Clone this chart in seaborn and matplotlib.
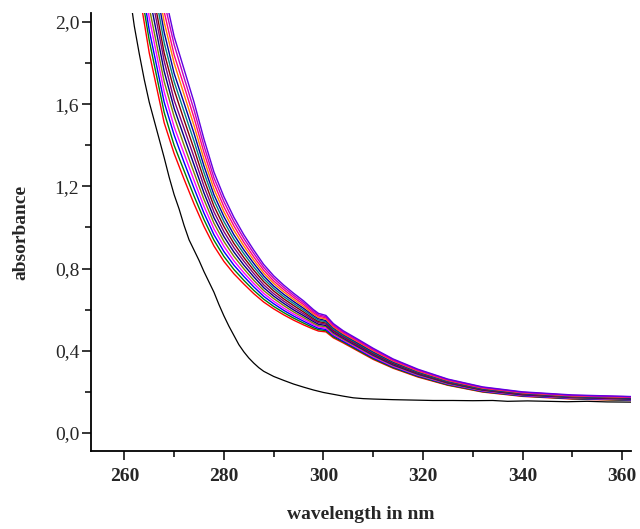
import matplotlib
matplotlib.use("Agg")
import matplotlib.pyplot as plt
import matplotlib.ticker as mticker
import seaborn as sns
import pandas as pd

# Reference (blank) spectrum
ref_nm = [261.0, 262, 263, 264, 265, 266, 267, 268, 269, 270, 271, 272, 273, 274,
          275, 276, 277, 278, 279, 280, 281, 282, 283, 284, 285, 286, 287, 288,
          290, 292, 294, 296, 298, 300, 302, 304, 306, 308, 310, 314, 318, 322,
          326, 330, 334, 337, 341, 345, 349, 353, 357, 362]
ref_abs = [2.15, 1.98, 1.845, 1.72, 1.61, 1.52, 1.43, 1.34, 1.245, 1.16, 1.09, 1.01,
           0.94, 0.89, 0.84, 0.785, 0.735, 0.685, 0.625, 0.57, 0.52, 0.475, 0.43, 0.395,
           0.365, 0.34, 0.318, 0.30, 0.275, 0.256, 0.238, 0.223, 0.209, 0.197, 0.188,
           0.179, 0.171, 0.167, 0.165, 0.162, 0.160, 0.158, 0.158, 0.157, 0.158, 0.154,
           0.156, 0.154, 0.152, 0.154, 0.151, 0.150]

# Wavelength grid shared by the sample scans
scan_nm = [262, 265, 268, 270, 272, 274, 276, 278, 280, 282, 284, 286, 288, 290,
           292, 294, 296, 298, 299, 300.5, 302, 304, 307, 310, 314, 319, 325, 332,
           340, 350, 362]

scan_01 = [2.29, 1.85, 1.51, 1.36, 1.235, 1.115, 1.005, .910, .835, .775, .725, .678, .637, .604, .575, .549, .526, .505, .496, .492, .463, .438, .398, .358, .315, .272, .232, .199, .178, .165, .158]
scan_02 = [2.35, 1.91, 1.56, 1.40, 1.276, 1.153, 1.038, .938, .859, .796, .743, .694, .651, .616, .586, .559, .535, .512, .503, .498, .468, .443, .402, .362, .318, .275, .234, .201, .180, .167, .159]
scan_03 = [2.41, 1.96, 1.61, 1.45, 1.317, 1.191, 1.070, .965, .883, .817, .762, .711, .665, .629, .597, .569, .544, .520, .509, .504, .474, .447, .407, .366, .322, .278, .237, .203, .181, .168, .161]
scan_04 = [2.47, 2.02, 1.66, 1.49, 1.359, 1.229, 1.103, .993, .908, .838, .780, .727, .679, .641, .608, .579, .553, .527, .516, .510, .479, .452, .411, .370, .325, .281, .239, .205, .183, .170, .162]
scan_05 = [2.52, 2.07, 1.71, 1.54, 1.400, 1.267, 1.136, 1.021, .932, .860, .799, .743, .693, .654, .620, .589, .562, .534, .522, .517, .484, .456, .416, .375, .329, .284, .241, .207, .185, .171, .164]
scan_06 = [2.58, 2.13, 1.76, 1.58, 1.441, 1.305, 1.168, 1.048, .956, .881, .817, .760, .707, .666, .631, .599, .571, .542, .529, .523, .490, .461, .420, .379, .332, .287, .244, .209, .186, .173, .165]
scan_07 = [2.64, 2.19, 1.81, 1.62, 1.482, 1.343, 1.201, 1.076, .980, .902, .836, .776, .721, .678, .642, .609, .580, .549, .536, .529, .495, .465, .424, .383, .336, .290, .246, .211, .188, .174, .167]
scan_08 = [2.70, 2.24, 1.85, 1.67, 1.523, 1.382, 1.234, 1.104, 1.005, .923, .854, .792, .736, .691, .653, .620, .589, .556, .542, .535, .500, .470, .429, .387, .339, .292, .248, .212, .190, .176, .168]
scan_09 = [2.76, 2.30, 1.90, 1.71, 1.564, 1.420, 1.267, 1.132, 1.029, .944, .873, .808, .750, .703, .664, .630, .598, .563, .549, .541, .505, .474, .433, .391, .343, .295, .250, .214, .192, .177, .170]
scan_10 = [2.82, 2.36, 1.95, 1.75, 1.605, 1.458, 1.299, 1.159, 1.053, .965, .891, .825, .764, .715, .675, .640, .607, .571, .556, .547, .511, .479, .437, .395, .346, .298, .253, .216, .193, .179, .171]
scan_11 = [2.87, 2.41, 2.00, 1.80, 1.647, 1.496, 1.332, 1.187, 1.077, .987, .910, .841, .778, .728, .687, .650, .616, .578, .562, .554, .516, .483, .442, .400, .350, .301, .255, .218, .195, .180, .173]
scan_12 = [2.93, 2.47, 2.05, 1.84, 1.688, 1.534, 1.365, 1.215, 1.101, 1.008, .928, .857, .792, .740, .698, .660, .625, .585, .569, .560, .521, .488, .446, .404, .353, .304, .257, .220, .197, .182, .174]
scan_13 = [2.99, 2.52, 2.10, 1.89, 1.729, 1.572, 1.397, 1.242, 1.126, 1.029, .947, .874, .806, .753, .709, .670, .634, .593, .575, .566, .527, .492, .451, .408, .357, .307, .260, .222, .198, .183, .176]
scan_14 = [3.05, 2.58, 2.15, 1.93, 1.770, 1.610, 1.430, 1.270, 1.150, 1.050, .965, .890, .820, .765, .720, .680, .643, .600, .582, .572, .532, .497, .455, .412, .360, .310, .262, .224, .200, .185, .177]

scans = [scan_01, scan_02, scan_03, scan_04, scan_05, scan_06, scan_07,
         scan_08, scan_09, scan_10, scan_11, scan_12, scan_13, scan_14]
scan_colors = ["#FF0000", "#008000", "#0000FF", "#FF00FF", "#808000", "#000080",
               "#800080", "#800000", "#008080", "#0000A0", "#FF8000", "#FF0080",
               "#C000C0", "#6000E0"]

x_ticks = [260, 280, 300, 320, 340, 360]
y_ticks = [0.0, 0.4, 0.8, 1.2, 1.6, 2.0]

rows = []
for i, s in enumerate(scans):
    for w, a in zip(scan_nm, s):
        rows.append({"scan": f"s{i:02d}", "nm": w, "abs": a})
df = pd.DataFrame(rows)
ref_df = pd.DataFrame({"nm": ref_nm, "abs": ref_abs})

sns.set_style("white")
plt.rcParams["font.family"] = ["Liberation Serif", "DejaVu Serif"]

fig = plt.figure(figsize=(6.4, 5.29), dpi=100)
ax = fig.add_axes([0.1422, 0.1474, 0.8438, 0.8280])

sns.lineplot(data=ref_df, x="nm", y="abs", color="black", lw=0.9,
             sort=False, estimator=None, ax=ax)
sns.lineplot(data=df, x="nm", y="abs", hue="scan", palette=scan_colors,
             lw=1.0, sort=False, estimator=None, legend=False, ax=ax)

ax.set_xlim(253.3, 361.8)
ax.set_ylim(-0.088, 2.044)
ax.set_xticks(x_ticks)
ax.set_yticks(y_ticks)
ax.xaxis.set_minor_locator(mticker.MultipleLocator(10))
ax.yaxis.set_minor_locator(mticker.MultipleLocator(0.2))
ax.set_xticklabels([str(t) for t in x_ticks], fontweight="bold", fontsize=14)
ax.set_yticklabels([f"{t:.1f}".replace(".", ",") for t in y_ticks], fontsize=14)

for side in ("top", "right"):
    ax.spines[side].set_visible(False)
for side in ("left", "bottom"):
    ax.spines[side].set_linewidth(1.3)
    ax.spines[side].set_color("black")

ax.tick_params(which="major", direction="out", length=6.5, width=1.1,
               color="black", left=True, bottom=True, pad=2)
ax.tick_params(which="minor", direction="out", length=4, width=1.1,
               color="black", left=True, bottom=True)
ax.tick_params(axis="x", which="major", pad=6)

ax.set_xlabel("wavelength in nm", fontweight="bold", fontsize=14, labelpad=15)
ax.set_ylabel("absorbance", fontweight="bold", fontsize=14, labelpad=18)

fig.savefig("out.png", dpi=100, facecolor="white")
